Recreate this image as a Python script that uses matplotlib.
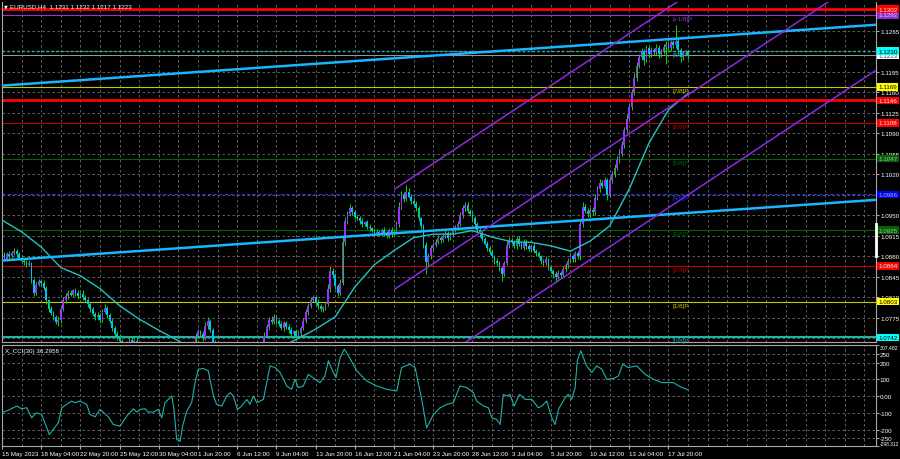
import numpy as np
import matplotlib.pyplot as plt
from matplotlib import font_manager

# 窄字体优先, 没有就用 Liberation Sans
_names = {f.name for f in font_manager.fontManager.ttflist}
_font = 'Liberation Sans Narrow' if 'Liberation Sans Narrow' in _names else 'Liberation Sans'
plt.rcParams['font.family'] = [_font, 'DejaVu Sans']
fs = 5.2 if _font == 'Liberation Sans Narrow' else 4.5

# EURUSD H4, 收盘价 (x 1e-4)
closes = [
    10882, 10876, 10884, 10880, 10886, 10889, 10884, 10878, 10872, 10870,
    10866, 10868, 10840, 10818, 10832, 10838, 10834, 10826, 10805, 10790,
    10784, 10776, 10768, 10772, 10790, 10805, 10812, 10818, 10815, 10822,
    10818, 10812, 10816, 10810, 10806, 10798, 10790, 10782, 10776, 10780,
    10772, 10786, 10792, 10780, 10770, 10758, 10748, 10742, 10735, 10728,
    10722, 10730, 10738, 10734, 10736, 10730, 10722, 10712, 10706, 10700,
    10708, 10702, 10695, 10705, 10712, 10718, 10722, 10728, 10732, 10726,
    10730, 10722, 10712, 10700, 10680, 10665, 10668, 10690, 10730, 10745,
    10752, 10748, 10740, 10762, 10770, 10755, 10732, 10715, 10705, 10698,
    10700, 10708, 10712, 10705, 10695, 10700, 10708, 10712, 10705, 10695,
    10690, 10698, 10700, 10706, 10712, 10720, 10728, 10745, 10760, 10772,
    10768, 10776, 10770, 10765, 10758, 10766, 10760, 10755, 10748, 10752,
    10745, 10750, 10758, 10770, 10785, 10796, 10806, 10810, 10802, 10795,
    10790, 10793, 10798, 10825, 10855, 10848, 10830, 10818, 10835, 10905,
    10940, 10952, 10962, 10955, 10948, 10945, 10940, 10935, 10938, 10930,
    10928, 10924, 10920, 10922, 10918, 10925, 10920, 10915, 10925, 10918,
    10922, 10935, 10965, 10985, 10978, 10990, 10982, 10975, 10970, 10962,
    10945, 10932, 10900, 10870, 10880, 10895, 10900, 10905, 10912, 10908,
    10915, 10920, 10912, 10918, 10925, 10930, 10935, 10950, 10962, 10968,
    10958, 10952, 10945, 10935, 10925, 10918, 10910, 10902, 10895, 10888,
    10880, 10872, 10868, 10860, 10850, 10868, 10900, 10908, 10905, 10898,
    10910, 10902, 10895, 10905, 10898, 10892, 10898, 10890, 10885, 10880,
    10872, 10868, 10875, 10862, 10855, 10850, 10845, 10852, 10848, 10858,
    10865, 10872, 10880, 10875, 10885, 10880, 10935, 10965, 10958, 10952,
    10960, 10955, 10980, 10995, 11005, 11000, 11010, 10985, 11010, 11020,
    11030, 11045, 11055, 11070, 11095, 11115, 11135, 11160, 11185, 11205,
    11220, 11230, 11215, 11235, 11225, 11232, 11228, 11236, 11225, 11230,
    11238, 11242, 11235, 11245, 11240, 11248, 11232, 11220, 11228, 11231,
    11223,
]
first_open = 10880
wick_up = [
    4, 6, 3, 5, 4, 5, 3, 4, 5, 3, 4, 6, 3, 4, 5, 4, 3, 5, 4, 3,
    5, 3, 4, 6, 4, 5, 6, 4, 5, 3, 4, 5, 3, 6, 4, 3, 5, 4, 3, 6,
    4, 5, 6, 3, 4, 5, 3, 4, 5, 4, 3, 6, 5, 4, 3, 5, 4, 3, 5, 4,
    3, 5, 4, 6, 3, 4, 5, 6, 4, 3, 5, 4, 3, 4, 5, 6, 4, 5, 6, 4,
    5, 3, 4, 6, 7, 4, 3, 5, 4, 3, 5, 4, 3, 5, 4, 3, 4, 5, 3, 4,
    5, 3, 4, 5, 4, 3, 5, 6, 5, 4, 6, 5, 4, 3, 5, 4, 3, 5, 4, 3,
    5, 4, 3, 5, 6, 4, 5, 4, 3, 5, 4, 3, 5, 8, 9, 5, 4, 3, 6, 10,
    8, 5, 8, 4, 5, 3, 4, 5, 3, 4, 5, 3, 4, 5, 3, 4, 5, 4, 3, 5,
    4, 6, 8, 6, 5, 12, 6, 5, 4, 5, 4, 3, 4, 5, 6, 5, 4, 5, 4, 3,
    4, 5, 3, 4, 5, 4, 6, 6, 5, 5, 4, 3, 5, 4, 3, 4, 5, 3, 4, 3,
    4, 3, 5, 4, 3, 5, 6, 5, 4, 3, 5, 4, 3, 5, 4, 3, 4, 5, 3, 4,
    3, 4, 5, 3, 4, 3, 5, 4, 3, 5, 4, 5, 6, 4, 5, 4, 8, 7, 5, 4,
    5, 4, 6, 5, 7, 5, 6, 4, 6, 5, 7, 6, 8, 7, 6, 8, 7, 6, 8, 7,
    6, 5, 4, 5, 4, 5, 4, 6, 5, 4, 5, 6, 4, 5, 4, 26, 5, 4, 3, 1,
    1,
]
wick_dn = [
    5, 4, 3, 5, 4, 3, 5, 4, 3, 5, 4, 3, 6, 5, 4, 3, 5, 4, 6, 5,
    4, 5, 4, 7, 5, 3, 4, 5, 3, 4, 5, 4, 3, 5, 4, 5, 4, 3, 5, 4,
    5, 4, 3, 5, 4, 5, 4, 5, 4, 3, 5, 4, 3, 4, 5, 3, 4, 5, 4, 3,
    5, 4, 6, 3, 4, 5, 4, 3, 5, 4, 3, 5, 4, 5, 6, 5, 4, 3, 5, 4,
    3, 5, 4, 3, 5, 4, 5, 4, 3, 5, 4, 3, 4, 5, 3, 4, 5, 4, 3, 5,
    4, 3, 5, 4, 3, 4, 5, 4, 3, 5, 4, 3, 5, 4, 3, 5, 4, 5, 4, 5,
    4, 3, 5, 4, 3, 5, 4, 3, 5, 4, 3, 5, 4, 3, 5, 4, 6, 5, 4, 3,
    5, 4, 3, 5, 4, 3, 5, 4, 3, 4, 5, 3, 4, 5, 3, 4, 5, 3, 4, 5,
    3, 4, 5, 4, 5, 4, 3, 5, 4, 5, 4, 5, 6, 20, 6, 4, 5, 4, 3, 5,
    4, 3, 5, 4, 3, 4, 5, 3, 4, 5, 4, 3, 5, 4, 3, 5, 4, 3, 5, 4,
    3, 5, 4, 5, 12, 4, 3, 5, 4, 3, 5, 4, 3, 4, 5, 3, 4, 5, 4, 3,
    5, 4, 3, 5, 4, 6, 9, 4, 5, 3, 4, 5, 3, 4, 5, 4, 6, 5, 4, 5,
    4, 5, 4, 3, 5, 4, 3, 8, 4, 5, 4, 3, 5, 4, 5, 4, 3, 5, 4, 5,
    4, 5, 8, 4, 6, 5, 4, 5, 6, 4, 5, 30, 5, 4, 5, 4, 6, 8, 5, 4,
    6,
]

# 均线 (bar, price)
ma_bars = [0, 8, 16, 24, 32, 40, 48, 56, 64, 72, 80, 88, 96, 104, 112, 120,
           128, 136, 144, 152, 160, 168, 176, 184, 192, 200, 208, 216, 224,
           232, 240, 248, 256, 264, 272, 280]
ma_vals = [1.0942, 1.0922, 1.0896, 1.0861, 1.0847, 1.0825, 1.0796, 1.0773,
           1.0754, 1.0736, 1.0715, 1.0700, 1.0695, 1.0705, 1.0722, 1.0738,
           1.0756, 1.0777, 1.0828, 1.0866, 1.0890, 1.0912, 1.0918, 1.0918,
           1.0924, 1.0913, 1.0905, 1.0904, 1.0898, 1.0889, 1.0906, 1.0932,
           1.0995, 1.1073, 1.1130, 1.1158]

# CCI(30)
cci_bars = [0, 3.3, 6.0, 8.0, 10.1, 12.1, 14.1, 16.2, 19.3, 20.9, 23.0, 24.4,
            26.4, 28.4, 29.8, 31.8, 34.6, 35.9, 38.0, 40.0, 43.4, 45.4, 48.2,
            50.9, 53.6, 55.0, 56.3, 58.4, 59.7, 61.8, 63.8, 65.2, 66.5, 67.9,
            69.3, 70.2, 71.3, 72.7, 73.7, 75.4, 77.4, 78.8, 80.1, 82.2, 84.2,
            86.3, 87.6, 89.7, 91.7, 93.1, 94.4, 96.1, 97.8, 99.9, 101.2, 102.6,
            104.0, 106.7, 109.4, 111.4, 113.5, 116.2, 118.2, 119.6, 120.9,
            123.0, 125.0, 127.8, 129.8, 131.8, 133.2, 134.6, 136.3, 138.0,
            139.7, 141.4, 144.8, 148.8, 152.9, 157.0, 161.1, 163.1, 166.5,
            168.6, 171.3, 173.3, 176.1, 178.8, 181.5, 184.2, 186.9, 189.7,
            192.4, 193.7, 196.5, 198.5, 199.9, 201.9, 203.3, 204.6, 206.0,
            207.3, 209.0, 211.2, 213.5, 216.2, 218.9, 220.3, 222.3, 224.4,
            225.7, 227.1, 229.8, 231.1, 232.5, 233.9, 234.8, 236.2, 238.6,
            240.7, 242.7, 244.8, 246.8, 249.5, 251.6, 253.3, 255.6, 259.1,
            262.4, 265.8, 269.3, 274.0, 276.7, 280.0]
cci_vals = [-100, -80, -60, -76, -70, -130, -100, -110, -230, -200, -160, -70,
            -50, -30, -40, -30, -50, -110, -124, -80, -124, -170, -180,
            -120, -76, -96, -80, -76, -96, -96, -80, -130, -40, -20,
            0, -80, -260, -270, -180, -90, -40, 80, 160, 164, 150,
            0, -50, -60, 0, 20, 0, -80, -60, -20, -50, 0,
            -40, -20, 180, 170, 140, 60, 40, 100, 50,
            60, 130, 100, 80, 120, 210, 160, 110, 230,
            280, 240, 150, 90, 60, 40, 30, 170, 190,
            170, -20, -190, -110, -70, -50, -40, 60, 50,
            20, -30, -60, -70, -130, -140, -170, 10, 0,
            10, -60, 10, -20, -20, -70, -60, -30, -130,
            -170, -80, -10, 10, -20, 50, 210, 270, 180,
            140, 180, 160, 100, 104, 120, 190, 170, 180,
            130, 100, 80, 80, 56, 36.3]

x_labels = ['15 May 2023', '18 May 04:00', '22 May 20:00', '25 May 12:00',
            '30 May 04:00', '1 Jun 20:00', '6 Jun 12:00', '9 Jun 04:00',
            '13 Jun 20:00', '16 Jun 12:00', '21 Jun 04:00', '23 Jun 20:00',
            '28 Jun 12:00', '3 Jul 04:00', '5 Jul 20:00', '10 Jul 12:00',
            '13 Jul 04:00', '17 Jul 20:00']
price_ticks = [1.1300, 1.1265, 1.1230, 1.1195, 1.1160, 1.1125, 1.1090, 1.1055,
               1.1020, 1.0985, 1.0950, 1.0915, 1.0880, 1.0845, 1.0810, 1.0775,
               1.0740]
cci_ticks = [307.482, 250, 200, 100, 0, -100, -200, -250, -298.312]
cci_tick_labels = ['307.482', '250', '200', '100', '0.00', '-100', '-200',
                   '-250', '-298.312']

# Murrey 水平
murrey_prices = [1.1292, 1.1230, 1.1169, 1.1108, 1.1047, 1.0986, 1.0925,
                 1.0864, 1.0803, 1.0742]
murrey_names = ['[+1/8]P', '[8/8]P', '[7/8]P', '[6/8]P', '[5/8]P', '[4/8]P',
                '[3/8]P', '[2/8]P', '[1/8]P', '[0/8]P']
murrey_colors = ['#9932cc', '#20b2aa', '#c8c800', '#c00000', '#006400',
                 '#2a2aff', '#006400', '#c00000', '#c8c800', '#20b2aa']
murrey_box = ['#8a2be2', '#00ffff', '#ffff00', '#ff0000', '#006400',
              '#0000ff', '#006400', '#ff0000', '#ffff00', '#00ffff']
murrey_boxtext = ['#d8d8d8', 'black', 'black', '#f0f0f0', '#b0b0b0',
                  '#b0b0b0', '#b0b0b0', '#f0f0f0', 'black', 'black']
red_levels = [1.1302, 1.1146]
last_price = 1.1223

# 趋势线 (bar0, price0, bar1, price1)
blue_lines = [(-0.8, 1.11711, 356.7, 1.12752), (-0.8, 1.08728, 356.7, 1.09765)]
purple_lines = [(160.4, 1.09952, 357, 1.15398), (160.4, 1.08245, 357, 1.13691),
                (160.4, 1.06538, 357, 1.11984)]

W, H = 900, 460
def frame(x0, y0, x1, y1):
    return [x0 / W, 1 - y1 / H, (x1 - x0) / W, (y1 - y0) / H]

fig = plt.figure(figsize=(9, 4.6), dpi=100, facecolor='black')
ax = fig.add_axes(frame(1.5, 3, 876, 343))
ax2 = fig.add_axes(frame(1.5, 345.5, 876, 447))
grid_kw = dict(color='#6e6e6e', lw=0.6, ls=(0, (3, 3)), zorder=0.5)
for a in (ax, ax2):
    a.set_facecolor('black')
    a.set_xlim(-0.2, 356.7)
    for s in a.spines.values():
        s.set_color('#a8a8a8')
        s.set_linewidth(0.8)
    for b in range(8, 357, 8):
        a.axvline(b, **grid_kw)
ax.spines['top'].set_visible(False)

# 主图
ax.set_ylim(1.0734, 1.1314)
for p in price_ticks:
    ax.axhline(p, **grid_kw)

for p, col, ls, lw in zip(murrey_prices, murrey_colors,
                          ['-', (0, (2, 1.5)), '-', '-', '-', (0, (3, 2)), '-', '-', '-', '-'],
                          [0.8, 1.0, 0.8, 0.8, 0.8, 0.8, 0.8, 0.8, 0.8, 1.5]):
    ax.axhline(p, color=col, lw=lw, ls=ls, zorder=1.5)
for p in red_levels:
    ax.axhline(p, color='#ff0000', lw=2.0, zorder=1.6)
ax.axhline(last_price, color='#9a9a9a', lw=0.7, zorder=1.5)

o = np.r_[first_open, closes[:-1]] / 1e4
c = np.array(closes) / 1e4
hi = np.maximum(o, c) + np.array(wick_up) / 1e4
lo = np.minimum(o, c) - np.array(wick_dn) / 1e4
idx = np.arange(len(c))
up = c >= o
ax.vlines(idx, lo, hi, color='#00e000', lw=0.7, zorder=2)
ax.bar(idx, np.maximum(np.abs(c - o), 0.00006), bottom=np.minimum(o, c),
       width=0.72, color=np.where(up, '#9b30ff', '#00bfff'), lw=0, zorder=2.1)

ax.plot(ma_bars, ma_vals, color='#22c3c3', lw=1.0, zorder=3)

for x0, y0, x1, y1 in blue_lines:
    ax.plot([x0, x1], [y0, y1], color='#19b5fe', lw=1.8, zorder=4)
for x0, y0, x1, y1 in purple_lines:
    ax.plot([x0, x1], [y0, y1], color='#8a2be2', lw=1.1, zorder=4)

for p, name, col in zip(murrey_prices, murrey_names, murrey_colors):
    ax.text(273.5, p - 0.0002, name, color=col, fontsize=fs, va='top',
            ha='left', zorder=5)

ax.set_xticks([])
ax.yaxis.tick_right()
ax.set_yticks(price_ticks)
ax.set_yticklabels([f'{p:.4f}' for p in price_ticks])
ax.tick_params(axis='y', colors='#a8a8a8', labelcolor='white', labelsize=fs,
               length=2, pad=1)

# 右侧价格标签
box_items = list(zip(murrey_prices, murrey_box, murrey_boxtext))
box_items += [(red_levels[0], '#ff0000', '#f0f0f0'), (red_levels[1], '#ff0000', '#f0f0f0'),
              (last_price, '#ffffff', '#404040')]
box_items.sort(key=lambda t: t[0])
ytr = ax.get_yaxis_transform()
for p, fc, tc in box_items:
    ax.text(1.003, p, f'{p:.4f}', transform=ytr, color=tc, fontsize=fs,
            va='center', ha='left', clip_on=False, zorder=10,
            bbox=dict(boxstyle='square,pad=0.2', fc=fc, ec='none'))
ax.plot([1.0, 1.0], [1.0880, 1.0935], transform=ytr, color='white', lw=2,
        clip_on=False, zorder=11)

fig.text(4 / W, 1 - 6.5 / H, '\u25bc', color='white', fontsize=3.5,
         va='center', ha='left', family=['DejaVu Sans'])
fig.text(10 / W, 1 - 6.5 / H, 'EURUSD,H4  1.1231 1.1232 1.1217 1.1223',
         color='white', fontsize=fs, va='center', ha='left')

# CCI 副图
ax2.set_ylim(-298.312, 307.482)
for v in [250, 200, 100, 0, -100, -200, -250]:
    ax2.axhline(v, **grid_kw)
ax2.plot(cci_bars, cci_vals, color='#20b2aa', lw=0.8, zorder=3)
ax2.text(0.004, 0.94, 'X_CCI(30) 36.2958', transform=ax2.transAxes,
         color='white', fontsize=fs, va='center', ha='left')
ax2.yaxis.tick_right()
ax2.set_yticks(cci_ticks)
ax2.set_yticklabels(cci_tick_labels)
ax2.tick_params(axis='y', colors='#a8a8a8', labelcolor='white', labelsize=fs,
                length=2, pad=0.5)
tl = ax2.get_yticklabels()
tl[0].set_va('top')
tl[-1].set_va('bottom')
tl[0].set_fontsize(fs * 0.82)
tl[-1].set_fontsize(fs * 0.78)
ax2.set_xticks(np.arange(len(x_labels)) * 16)
ax2.set_xticklabels(x_labels, ha='left')
ax2.tick_params(axis='x', colors='#a8a8a8', labelcolor='white', labelsize=fs,
                length=2, pad=1.5)

fig.savefig('out.png', dpi=100, facecolor='black')
